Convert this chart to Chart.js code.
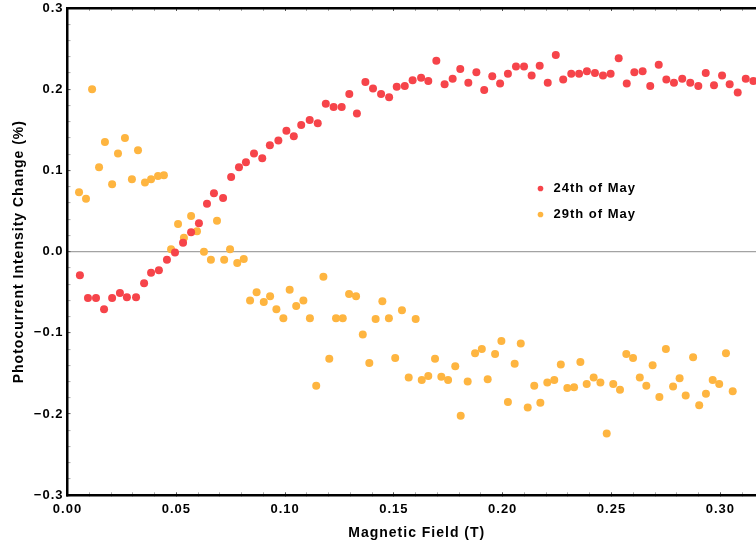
<!DOCTYPE html>
<html>
<head>
<meta charset="utf-8">
<script src="https://cdn.jsdelivr.net/npm/chart.js@4"></script>
<style>
  html, body { margin: 0; padding: 0; background: #fff; overflow: hidden; }
  canvas { display: block; }
</style>
</head>
<body>
<canvas id="chart" width="766" height="546"></canvas>
<script>
// magnetic field (T) and photocurrent change (%) for each run
const may24Field = [0.0057, 0.0094, 0.0131, 0.0168, 0.0205, 0.0241, 0.0273, 0.0315, 0.0352, 0.0384,
  0.0420, 0.0457, 0.0494, 0.0531, 0.0568, 0.0604, 0.0641, 0.0673, 0.0715, 0.0752,
  0.0788, 0.0820, 0.0857, 0.0895, 0.0930, 0.0969, 0.1006, 0.1040, 0.1074, 0.1113,
  0.1150, 0.1187, 0.1223, 0.1260, 0.1295, 0.1330, 0.1369, 0.1404, 0.1441, 0.1478,
  0.1513, 0.1550, 0.1586, 0.1625, 0.1658, 0.1695, 0.1733, 0.1770, 0.1805, 0.1842,
  0.1879, 0.1915, 0.1952, 0.1988, 0.2024, 0.2061, 0.2098, 0.2133, 0.2170, 0.2207,
  0.2244, 0.2278, 0.2315, 0.2351, 0.2387, 0.2424, 0.2461, 0.2496, 0.2533, 0.2570,
  0.2605, 0.2643, 0.2678, 0.2717, 0.2752, 0.2787, 0.2825, 0.2862, 0.2899, 0.2933,
  0.2971, 0.3008, 0.3043, 0.3080, 0.3117, 0.3152];
const may24Change = [-0.029, -0.057, -0.057, -0.071, -0.057, -0.051, -0.056, -0.056, -0.039, -0.026,
  -0.023, -0.010, -0.001, 0.011, 0.024, 0.035, 0.059, 0.072, 0.066, 0.092,
  0.104, 0.110, 0.121, 0.115, 0.131, 0.137, 0.149, 0.142, 0.156, 0.162,
  0.158, 0.182, 0.178, 0.178, 0.194, 0.170, 0.209, 0.201, 0.194, 0.190,
  0.203, 0.204, 0.211, 0.214, 0.210, 0.235, 0.206, 0.213, 0.225, 0.208,
  0.221, 0.199, 0.216, 0.207, 0.219, 0.228, 0.228, 0.217, 0.229, 0.208,
  0.242, 0.212, 0.219, 0.219, 0.222, 0.220, 0.217, 0.219, 0.238, 0.207,
  0.221, 0.222, 0.204, 0.230, 0.212, 0.208, 0.213, 0.208, 0.204, 0.220,
  0.205, 0.217, 0.206, 0.196, 0.213, 0.210];

const may29Field = [0.0053, 0.0085, 0.0113, 0.0145, 0.0172, 0.0205, 0.0232, 0.0264, 0.0296, 0.0324,
  0.0356, 0.0384, 0.0416, 0.0443, 0.0476, 0.0508, 0.0535, 0.0568, 0.0595, 0.0627,
  0.0659, 0.0687, 0.0720, 0.0747, 0.0780, 0.0810, 0.0839, 0.0869, 0.0902, 0.0931,
  0.0960, 0.0992, 0.1021, 0.1051, 0.1084, 0.1114, 0.1143, 0.1176, 0.1203, 0.1234,
  0.1265, 0.1294, 0.1326, 0.1357, 0.1387, 0.1416, 0.1447, 0.1477, 0.1506, 0.1537,
  0.1568, 0.1600, 0.1628, 0.1658, 0.1689, 0.1718, 0.1749, 0.1782, 0.1807, 0.1839,
  0.1873, 0.1904, 0.1931, 0.1965, 0.1994, 0.2024, 0.2055, 0.2083, 0.2115, 0.2145,
  0.2173, 0.2205, 0.2237, 0.2267, 0.2297, 0.2328, 0.2357, 0.2386, 0.2418, 0.2449,
  0.2478, 0.2508, 0.2539, 0.2568, 0.2599, 0.2630, 0.2660, 0.2689, 0.2720, 0.2750,
  0.2783, 0.2813, 0.2841, 0.2875, 0.2903, 0.2934, 0.2965, 0.2995, 0.3026, 0.3057];
const may29Change = [0.073, 0.065, 0.200, 0.104, 0.135, 0.083, 0.121, 0.140, 0.089, 0.125,
  0.085, 0.089, 0.093, 0.094, 0.003, 0.034, 0.017, 0.044, 0.025, 0.000,
  -0.010, 0.038, -0.010, 0.003, -0.014, -0.009, -0.060, -0.050, -0.062, -0.055,
  -0.071, -0.082, -0.047, -0.067, -0.060, -0.082, -0.165, -0.031, -0.132, -0.082,
  -0.082, -0.052, -0.055, -0.102, -0.137, -0.083, -0.061, -0.082, -0.131, -0.072,
  -0.155, -0.083, -0.158, -0.153, -0.132, -0.154, -0.158, -0.141, -0.202, -0.160,
  -0.125, -0.120, -0.157, -0.126, -0.110, -0.185, -0.138, -0.113, -0.192, -0.165,
  -0.186, -0.161, -0.158, -0.139, -0.168, -0.167, -0.136, -0.163, -0.155, -0.161,
  -0.224, -0.163, -0.170, -0.126, -0.131, -0.155, -0.165, -0.140, -0.179, -0.120,
  -0.166, -0.156, -0.177, -0.130, -0.189, -0.175, -0.158, -0.163, -0.125, -0.172];

const seriesNames = ['24th of May', '29th of May'];
const seriesColors = ['#f6444a', '#feb540'];

const fieldMin = 0, fieldMax = 0.321;
const changeMin = -0.3, changeMax = 0.3;

function pairs(xs, ys) {
    return xs.map((x, i) => ({ x: x, y: ys[i] }));
}

const boldFont = (size) => ({ family: "'Liberation Sans', Arial, sans-serif", size: size, weight: 'bold' });

// major ticks every 0.05 T / 0.1 %, minor ones in between
function isMajor(value, every) {
    return Math.round(value * 100) % every === 0;
}
function tickColor(every) {
    return (ctx) => isMajor(ctx.tick.value, every) ? '#555' : '#aaa';
}

// no extra room for half-labels at the axis ends
function noEndPadding(scale) {
    scale.paddingTop = 0;
    scale.paddingBottom = 0;
    scale.paddingLeft = 0;
    scale.paddingRight = 0;
}

// canvas text gets a little tracking
const tracking = {
    id: 'tracking',
    beforeLayout(chart) { chart.ctx.letterSpacing = '1px'; },
    beforeDraw(chart) { chart.ctx.letterSpacing = '1px'; }
};

// move the legend box to the right half of the plot
const legendSpot = {
    id: 'legendSpot',
    afterLayout(chart) {
        const lg = chart.legend;
        lg.left = 521;
        lg.top = 169;
        lg.right = lg.left + 200;
        lg.bottom = lg.top + 100;
    }
};

const frame = { display: true, color: '#000', width: 2.5 };

const xTicks = {
    min: fieldMin,
    max: fieldMax,
    grid: {
        drawOnChartArea: false,
        tickLength: -3,
        tickWidth: 1,
        tickColor: tickColor(5)
    },
    border: frame
};

new Chart('chart', {
    type: 'scatter',
    data: {
        datasets: [{
            label: seriesNames[0],
            data: pairs(may24Field, may24Change),
            backgroundColor: seriesColors[0],
            borderWidth: 0,
            pointRadius: 4,
            pointHoverRadius: 4
        }, {
            label: seriesNames[1],
            data: pairs(may29Field, may29Change),
            backgroundColor: seriesColors[1],
            borderWidth: 0,
            pointRadius: 4,
            pointHoverRadius: 4
        }]
    },
    options: {
        responsive: false,
        animation: false,
        layout: { padding: 0, autoPadding: false },
        plugins: {
            tooltip: { enabled: false },
            legend: {
                position: 'chartArea',
                align: 'start',
                labels: {
                    usePointStyle: true,
                    pointStyle: 'circle',
                    boxWidth: 13,
                    boxHeight: 4,
                    padding: 13,
                    color: '#000',
                    font: boldFont(13)
                }
            }
        },
        scales: {
            x: Object.assign({}, xTicks, {
                type: 'linear',
                position: 'bottom',
                afterFit(scale) { scale.height = 50.7; noEndPadding(scale); },
                ticks: {
                    stepSize: 0.01,
                    includeBounds: false,
                    autoSkip: false,
                    maxRotation: 0,
                    padding: 9,
                    color: '#000',
                    font: boldFont(13),
                    callback: (value) => isMajor(value, 5) ? value.toFixed(2) : ''
                },
                title: {
                    display: true,
                    text: 'Magnetic Field (T)',
                    color: '#000',
                    font: boldFont(14),
                    padding: { top: 0, bottom: 4 }
                }
            }),
            x2: Object.assign({}, xTicks, {
                type: 'linear',
                position: 'top',
                afterFit(scale) { scale.height = 8; noEndPadding(scale); },
                ticks: {
                    stepSize: 0.01,
                    includeBounds: false,
                    autoSkip: false,
                    display: false
                }
            }),
            y: {
                type: 'linear',
                position: 'left',
                min: changeMin,
                max: changeMax,
                afterFit(scale) { scale.width = 67.5; noEndPadding(scale); },
                grid: {
                    drawOnChartArea: true,
                    color: (ctx) => Math.abs(ctx.tick.value) < 1e-9 ? '#a3a3a3' : 'rgba(0,0,0,0)',
                    lineWidth: 1.2,
                    tickLength: -3,
                    tickWidth: 1,
                    tickColor: tickColor(10)
                },
                border: frame,
                ticks: {
                    stepSize: 0.02,
                    includeBounds: false,
                    autoSkip: false,
                    padding: 7,
                    color: '#000',
                    font: boldFont(13),
                    callback: (value) => {
                        if (!isMajor(value, 10)) return '';
                        return (value < -1e-9 ? '\u2212' : '') + Math.abs(value).toFixed(1);
                    }
                },
                title: {
                    display: true,
                    text: 'Photocurrent Intensity Change (%)',
                    color: '#000',
                    font: boldFont(14),
                    padding: { top: 11, bottom: 0 }
                }
            }
        }
    },
    plugins: [tracking, legendSpot]
});
</script>
</body>
</html>
